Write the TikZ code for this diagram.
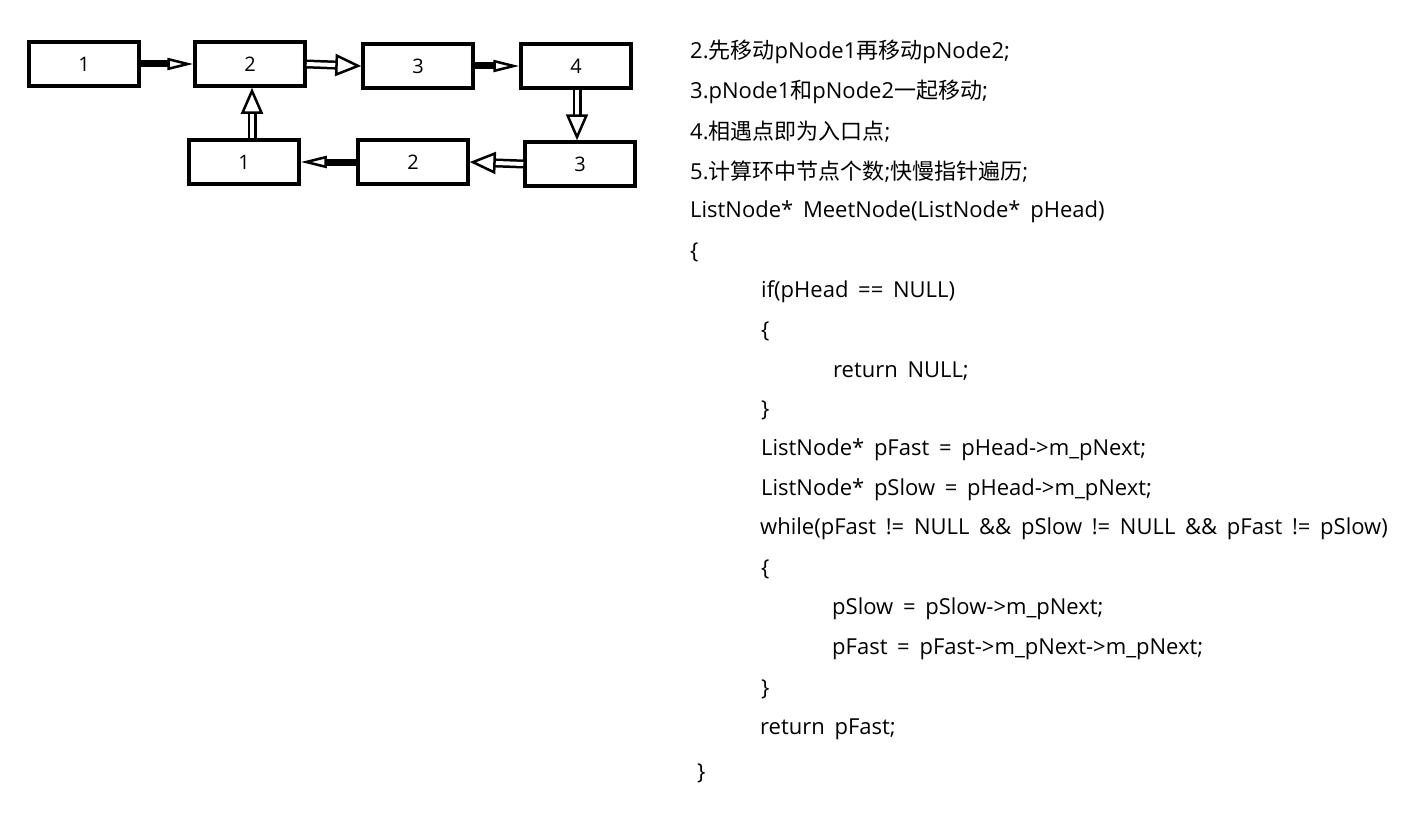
\documentclass[tikz,border=0pt]{standalone}
\usepackage{fontspec}
\setmainfont{Open Sans}[WordSpace=1.7]
\newfontfamily\cjk{Noto Sans CJK SC}
\usetikzlibrary{arrows.meta,positioning}
\tikzset{
 cell/.style={draw,line width=3.5pt,minimum width=110pt,minimum height=44pt,inner sep=0pt,font=\fontsize{20}{22}\selectfont},
 solidlink/.style={line width=7pt,-{Triangle[open,length=26pt,width=12pt,line width=2.5pt]}},
 hollowlink/.style={double,double distance=4pt,line width=2.5pt,-{Triangle[open,length=26pt,width=22pt,line width=2.5pt]}},
 code/.style={anchor=west,inner sep=0pt,font=\fontsize{22}{24}\selectfont}
}
\begin{document}
\begin{tikzpicture}[x=1pt,y=-1pt]
\useasboundingbox (0,0) rectangle (1421,816);
% the ring list
\node[cell] (t1) at (84,64) {1};
\node[cell] (t2) at (250,64) {2};
\node[cell] (t3) at (418,66) {3};
\node[cell] (t4) at (576,66) {4};
\node[cell] (b1) at (244,162) {1};
\node[cell] (b2) at (413,162) {2};
\node[cell] (b3) at (580,164) {3};
\draw[solidlink] (t1.east) -- (t2.west);
\draw[hollowlink] (t2.east) -- (t3.west);
\draw[solidlink] (t3.east) -- (t4.west);
\draw[hollowlink] ([xshift=1pt]t4.south) -- ([xshift=-3pt]b3.north);
\draw[hollowlink] (b3.west) -- (b2.east);
\draw[solidlink] (b2.west) -- (b1.east);
\draw[hollowlink] ([xshift=8pt]b1.north) -- ([xshift=2pt]t2.south);
% steps and code
\node[code] (s2) at (690,52) {2.{\cjk 先移动}pNode1{\cjk 再移动}pNode2;};
\node[code] (s3) at (690,92) {3.pNode1{\cjk 和}pNode2{\cjk 一起移动};};
\node[code] (s4) at (690,132) {4.{\cjk 相遇点即为入口点};};
\node[code] (s5) at (690,172) {5.{\cjk 计算环中节点个数};{\cjk 快慢指针遍历};};
\node[code] (c1) at (690,212) {ListNode* MeetNode(ListNode* pHead)};
\node[code] (c2) at (690,252) {\{};
\node[code] (c3) at (761,292) {if(pHead == NULL)};
\node[code] (c4) at (761,331) {\{};
\node[code] (c5) at (833,371) {return NULL;};
\node[code] (c6) at (761,410) {\}};
\node[code] (c7) at (761,450) {ListNode* pFast = pHead->m\_pNext;};
\node[code] (c8) at (761,490) {ListNode* pSlow = pHead->m\_pNext;};
\node[code] (c9) at (760,529) {while(pFast != NULL \&\& pSlow != NULL \&\& pFast != pSlow)};
\node[code] (c10) at (761,569) {\{};
\node[code] (c11) at (832,609) {pSlow = pSlow->m\_pNext;};
\node[code] (c12) at (832,649) {pFast = pFast->m\_pNext->m\_pNext;};
\node[code] (c13) at (761,689) {\}};
\node[code] (c14) at (760,729) {return pFast;};
\node[code] (c15) at (697,773) {\}};
\end{tikzpicture}
\end{document}
